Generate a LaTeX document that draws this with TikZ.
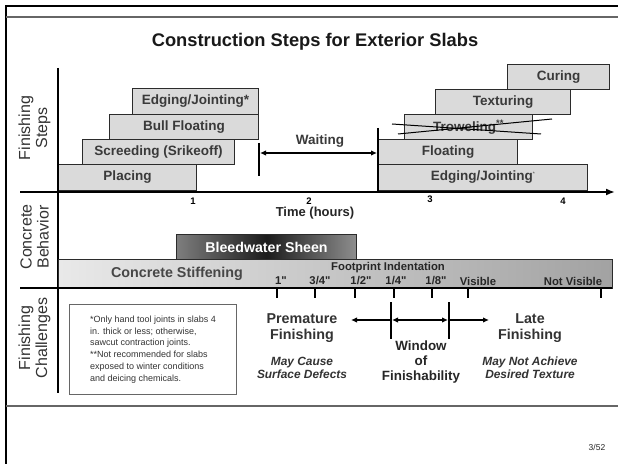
\documentclass[tikz,border=0pt]{standalone}
\usepackage{fontspec}
\setmainfont{Liberation Sans}
\usetikzlibrary{arrows.meta}
\definecolor{barfill}{HTML}{DADADA}
\definecolor{barline}{HTML}{2B2B2B}
\definecolor{bartext}{HTML}{3A3A3A}
\definecolor{labeltext}{HTML}{333333}
\definecolor{stiffL}{HTML}{E9E9E9}
\definecolor{stiffR}{HTML}{A2A2A2}
\definecolor{bleedL}{HTML}{7E7E7E}
\definecolor{bleedM}{HTML}{1C1C1C}
\definecolor{bleedR}{HTML}{8E8E8E}
\definecolor{framegray}{HTML}{666666}
\begin{document}
\begin{tikzpicture}[x=1bp,y=-1bp,
  stepbar/.style={draw=barline, fill=barfill, line width=1bp, inner sep=0pt, anchor=north west,
    text=bartext, font=\fontsize{13.5bp}{15bp}\selectfont\bfseries},
  sidelabel/.style={rotate=90, align=center, text=labeltext, inner sep=0pt,
    font=\fontsize{16bp}{17bp}\selectfont},
  axisnum/.style={text=black, inner sep=0pt, font=\fontsize{9.5bp}{11bp}\selectfont\bfseries},
  footlab/.style={text=black!85, inner sep=0pt, font=\fontsize{11.3bp}{13bp}\selectfont\bfseries},
  bigtxt/.style={text=labeltext, align=center, inner sep=0pt, font=\fontsize{14.3bp}{16bp}\selectfont\bfseries},
  smalltxt/.style={text=labeltext, align=center, inner sep=0pt, font=\fontsize{11.9bp}{13bp}\selectfont\bfseries\itshape},
  axisline/.style={line width=2.4bp, black},
  tick/.style={line width=1.6bp, black},
  arr/.style={line width=1.6bp, black, -{Latex[length=6bp,width=5.5bp]}},
  darr/.style={line width=1.6bp, black, {Latex[length=6bp,width=5.5bp]}-{Latex[length=6bp,width=5.5bp]}}
]
\useasboundingbox (0,0) rectangle (618,464);
\fill[white] (0,0) rectangle (618,464);

% frame
\draw[line width=2bp, black] (6,464) -- (6,6) -- (618,6);
\draw[line width=1.6bp, framegray] (6,17) -- (618,17);
\draw[line width=1.6bp, framegray] (6,406) -- (618,406);

% title
\node[inner sep=0pt, text=black!90, font=\fontsize{18.3bp}{20bp}\selectfont\bfseries] (title) at (315,42) {Construction Steps for Exterior Slabs};

% side labels
\node[sidelabel] (lfs) at (34.5,128) {Finishing\\Steps};
\node[sidelabel] (lcb) at (34.5,237) {Concrete\\Behavior};
\node[sidelabel] (lfc) at (34.5,338) {Finishing\\Challenges};

% left finishing steps
\node[stepbar, minimum width=138bp, minimum height=26bp] (placing) at (58,164) {Placing};
\node[stepbar, minimum width=152bp, minimum height=25bp] (screed) at (82,139) {Screeding (Srikeoff)};
\node[stepbar, minimum width=149bp, minimum height=25bp] (bull) at (109,114) {Bull Floating};
\node[stepbar, minimum width=126bp, minimum height=26bp] (edgeL) at (132,88) {Edging/Jointing*};

% right finishing steps
\node[stepbar, minimum width=209bp, minimum height=26bp] (edgeR) at (378,164) {Edging/Jointing\textsuperscript{\fontsize{5bp}{5bp}\selectfont\color{black!60}*}};
\node[stepbar, minimum width=139bp, minimum height=25bp] (floating) at (378,139) {Floating};
\node[stepbar, minimum width=128bp, minimum height=25bp] (trowel) at (404,114) {Troweling\textsuperscript{**}};
\node[stepbar, minimum width=135bp, minimum height=25bp] (texture) at (435,89) {Texturing};
\node[stepbar, minimum width=102bp, minimum height=25bp] (curing) at (507,64) {Curing};

% troweling crossed out
\coordinate (xa1) at (392,124); \coordinate (xa2) at (541,134);
\coordinate (xb1) at (398,134); \coordinate (xb2) at (552,119);
\draw[line width=1bp, black] (xa1) -- (xa2);
\draw[line width=1bp, black] (xb1) -- (xb2);

% waiting
\coordinate (wl1) at (259,143); \coordinate (wl2) at (259,176);
\coordinate (wr1) at (378,128); \coordinate (wr2) at (378,191);
\coordinate (wa1) at (260,153); \coordinate (wa2) at (377,153);
\draw[tick] (wl1) -- (wl2);
\draw[tick] (wr1) -- (wr2);
\draw[darr] (wa1) -- (wa2);
\node[inner sep=0pt, text=bartext, font=\fontsize{13.5bp}{15bp}\selectfont\bfseries] (waiting) at (320,141) {Waiting};

% axes
\coordinate (vtop) at (58,68); \coordinate (vbot) at (58,393);
\draw[line width=2bp, black] (vtop) -- (vbot);
\coordinate (ax0) at (20,192); \coordinate (ax1) at (615,192);
\draw[axisline, -{Latex[length=9bp,width=7bp]}] (ax0) -- (ax1);

\node[axisnum] (n1) at (193,201) {1};
\node[axisnum] (n2) at (309,201) {2};
\node[axisnum] (n3) at (430,199) {3};
\node[axisnum] (n4) at (563,201) {4};
\node[inner sep=0pt, text=black!85, font=\fontsize{13bp}{15bp}\selectfont\bfseries] (timelab) at (315,213) {Time (hours)};

% concrete behavior
\node[draw=barline, line width=1bp, inner sep=0pt, anchor=north west, minimum width=180bp, minimum height=25bp,
  left color=bleedL, right color=bleedR, middle color=bleedM,
  text=white, font=\fontsize{14.2bp}{16bp}\selectfont\bfseries] (bleed) at (176,234) {Bleedwater Sheen};

\node[draw=barline, line width=1.2bp, inner sep=0pt, anchor=north west, minimum width=554bp, minimum height=29bp,
  left color=stiffL, right color=stiffR] (stiff) at (58,259) {};
\coordinate (s0) at (20,288); \coordinate (s1) at (612,288);
\draw[line width=2.2bp, black] (s0) -- (s1);

\node[inner sep=0pt, text=black!72, font=\fontsize{14.3bp}{16bp}\selectfont\bfseries] (stifflab) at (177,274) {Concrete Stiffening};
\node[footlab] (foot) at (388,268) {Footprint Indentation};
\node[footlab] (f1) at (281,281) {1\textquotedbl};
\node[footlab] (f2) at (320,281) {3/4\textquotedbl};
\node[footlab] (f3) at (361,281) {1/2\textquotedbl};
\node[footlab] (f4) at (396,281) {1/4\textquotedbl};
\node[footlab] (f5) at (436,281) {1/8\textquotedbl};
\node[footlab] (f6) at (478,281) {Visible};
\node[footlab] (f7) at (573,281) {Not Visible};

% ticks below the bar
\foreach \tx/\tn in {277/a,315/b,355/c,394/d,432/e,468/f,601/g}{
  \coordinate (t\tn1) at (\tx,289); \coordinate (t\tn2) at (\tx,298);
  \draw[tick] (t\tn1) -- (t\tn2);
}

% finishing challenges
\node[draw=framegray, line width=1bp, anchor=north west, minimum width=167bp, minimum height=90bp,
  align=left, inner sep=0pt, text=labeltext, font=\fontsize{9bp}{11.7bp}\selectfont] (note) at (69,304)
  {*Only hand tool joints in slabs 4\\in. thick or less; otherwise,\\sawcut contraction joints.\\**Not recommended for slabs\\exposed to winter conditions\\and deicing chemicals.};

\node[bigtxt] (prem) at (302,328) {Premature\\Finishing};
\node[smalltxt] (premsub) at (302,367.5) {May Cause\\Surface Defects};
\node[bigtxt, font=\fontsize{13.4bp}{15bp}\selectfont\bfseries, text=black!85] (window) at (421,362) {Window\\of\\Finishability};
\node[bigtxt] (late) at (530,328) {Late\\Finishing};
\node[smalltxt] (latesub) at (530,367.5) {May Not Achieve\\Desired Texture};

\coordinate (b1t) at (391,302); \coordinate (b1b) at (391,339);
\coordinate (b2t) at (449,302); \coordinate (b2b) at (449,339);
\draw[line width=2bp, black] (b1t) -- (b1b);
\draw[line width=2bp, black] (b2t) -- (b2b);
\coordinate (la) at (391,320); \coordinate (lb) at (351,320);
\coordinate (ma) at (392,320); \coordinate (mb) at (448,320);
\coordinate (ra) at (449,320); \coordinate (rb) at (489,320);
\draw[arr] (la) -- (lb);
\draw[darr] (ma) -- (mb);
\draw[arr] (ra) -- (rb);

% page number
\node[inner sep=0pt, text=black!85, font=\fontsize{8.5bp}{10bp}\selectfont] (page) at (597,447) {3/52};
\end{tikzpicture}
\end{document}
